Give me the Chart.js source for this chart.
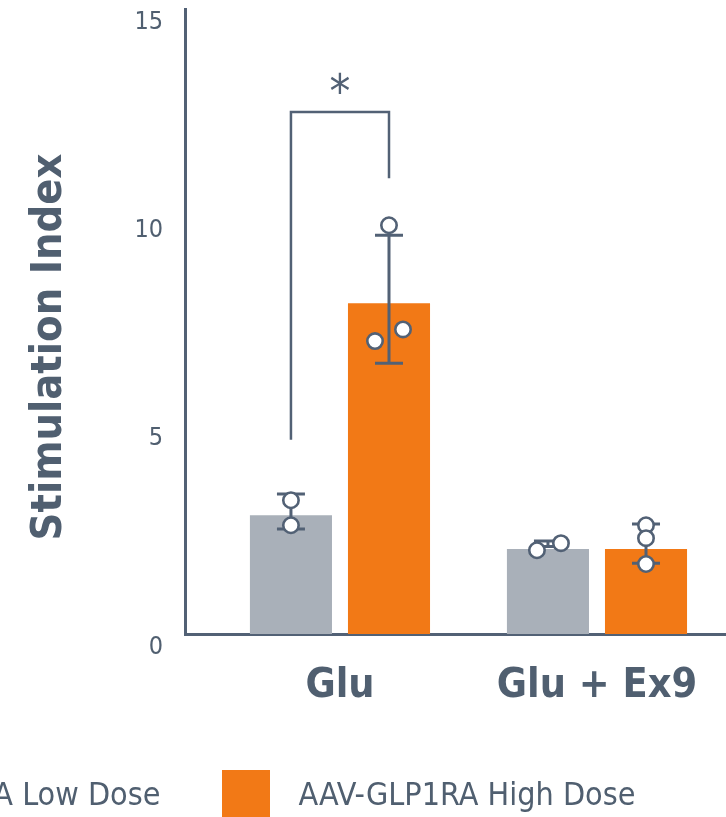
<!DOCTYPE html>
<html>
<head>
<meta charset="utf-8">
<script src="https://cdn.jsdelivr.net/npm/chart.js@4.4.1/dist/chart.umd.min.js"></script>
<style>
  html, body { margin: 0; padding: 0; background: #fff; overflow: hidden; }
  #wrap { position: relative; width: 726px; height: 817px; }
  #legenda {
    position: absolute; top: 770px; left: -243px;
    display: flex; align-items: center; white-space: nowrap;
    font-family: 'DejaVu Sans Condensed', 'DejaVu Sans', sans-serif;
    font-size: 32px; color: #505f70;
  }
  .item { display: flex; align-items: center; margin-right: 62px; }
  .caixa { width: 48px; height: 48px; margin-right: 28px; }
</style>
</head>
<body>
<div id="wrap">
  <canvas id="grafico"></canvas>
  <div id="legenda"></div>
</div>
<script>
// Dados
const categorias = ['Glu', 'Glu + Ex9'];
const series = ['AAV-GLP1RA Low Dose', 'AAV-GLP1RA High Dose'];
const doseBaixa = [2.85, 2.04];
const doseAlta = [7.94, 2.04];
const erroBaixa = [[2.52, 3.36], [2.10, 2.23]];
const erroAlta = [[6.50, 9.57], [1.70, 2.64]];
const pontosBaixa = [[3.21, 2.61], [2.01, 2.18]];
const pontosAlta = [[9.81, 7.03, 7.31], [2.61, 2.30, 1.68]];
const ticksY = [0, 5, 10, 15];
const tituloY = 'Stimulation Index';
const textoSignif = '*';
const signifTopo = 12.53;
const signifPeBaixa = 4.66;
const signifPeAlta = 10.94;
const signifMarca = 13.22;

// Estilo
const cores = ['#a9b0b9', '#f27916'];
const corTexto = '#505f70';
const corLinha = '#526175';
const fonte = "'DejaVu Sans Condensed', 'DejaVu Sans', sans-serif";
// deslocamento horizontal (px) dos pontos individuais
const jitter = [[[0, 0], [-11, 13]], [[0, -14, 14], [0, 0, 0]]];

const pluginExtras = {
  id: 'extras',
  afterDatasetsDraw(chart) {
    const { ctx } = chart;
    const y = chart.scales.y;
    const erros = [erroBaixa, erroAlta];
    const pontos = [pontosBaixa, pontosAlta];
    ctx.save();
    ctx.strokeStyle = corLinha;
    ctx.lineWidth = 3;
    chart.data.datasets.forEach((ds, i) => {
      chart.getDatasetMeta(i).data.forEach((barra, j) => {
        const yLo = y.getPixelForValue(erros[i][j][0]);
        const yHi = y.getPixelForValue(erros[i][j][1]);
        ctx.beginPath();
        ctx.moveTo(barra.x, yLo); ctx.lineTo(barra.x, yHi);
        ctx.moveTo(barra.x - 14, yLo); ctx.lineTo(barra.x + 14, yLo);
        ctx.moveTo(barra.x - 14, yHi); ctx.lineTo(barra.x + 14, yHi);
        ctx.stroke();
      });
    });
    ctx.lineWidth = 2.6;
    ctx.fillStyle = '#ffffff';
    chart.data.datasets.forEach((ds, i) => {
      chart.getDatasetMeta(i).data.forEach((barra, j) => {
        pontos[i][j].forEach((v, k) => {
          ctx.beginPath();
          ctx.arc(barra.x + jitter[i][j][k], y.getPixelForValue(v), 7.7, 0, Math.PI * 2);
          ctx.fill();
          ctx.stroke();
        });
      });
    });
    ctx.restore();
  },
  afterDraw(chart) {
    const { ctx } = chart;
    const y = chart.scales.y;
    const xa = chart.getDatasetMeta(0).data[0].x;
    const xb = chart.getDatasetMeta(1).data[0].x;
    ctx.save();
    // colchete de significância
    ctx.strokeStyle = corLinha;
    ctx.lineWidth = 2.5;
    ctx.beginPath();
    ctx.moveTo(xa, y.getPixelForValue(signifPeBaixa));
    ctx.lineTo(xa, y.getPixelForValue(signifTopo));
    ctx.lineTo(xb, y.getPixelForValue(signifTopo));
    ctx.lineTo(xb, y.getPixelForValue(signifPeAlta));
    ctx.stroke();

    // asterisco
    ctx.fillStyle = corLinha;
    ctx.font = '40px ' + fonte;
    let m = ctx.measureText(textoSignif);
    const tam = 40 * 22 / (m.actualBoundingBoxAscent + m.actualBoundingBoxDescent);
    ctx.font = tam + 'px ' + fonte;
    m = ctx.measureText(textoSignif);
    ctx.textAlign = 'center';
    ctx.textBaseline = 'alphabetic';
    const cy = y.getPixelForValue(signifMarca);
    ctx.fillText(textoSignif, (xa + xb) / 2, cy + (m.actualBoundingBoxAscent - m.actualBoundingBoxDescent) / 2);

    // título do eixo Y
    ctx.fillStyle = corTexto;
    ctx.font = 'bold 43px ' + fonte;
    m = ctx.measureText(tituloY);
    ctx.translate(44.5, 347);
    ctx.rotate(-Math.PI / 2);
    ctx.fillText(tituloY, 0, (m.actualBoundingBoxAscent - m.actualBoundingBoxDescent) / 2);
    ctx.restore();
  }
};

const ctx = document.getElementById('grafico');
const grafico = new Chart(ctx, {
  type: 'bar',
  data: {
    datasets: [
      { label: series[0], data: doseBaixa.map((v, i) => ({ x: i, y: v })), backgroundColor: cores[0] },
      { label: series[1], data: doseAlta.map((v, i) => ({ x: i, y: v })), backgroundColor: cores[1] }
    ]
  },
  options: {
    responsive: true,
    maintainAspectRatio: false,
    animation: false,
    categoryPercentage: 0.763,
    barPercentage: 0.837,
    layout: { padding: { top: 9, left: 0, right: 0, bottom: 0 } },
    plugins: { legend: { display: false }, tooltip: { enabled: false } },
    scales: {
      x: {
        type: 'linear',
        offset: false,
        min: -0.603,
        max: 1.502,
        grid: { display: false, drawTicks: false },
        border: { display: true, color: corLinha, width: 3 },
        afterBuildTicks: (s) => { s.ticks = categorias.map((c, i) => ({ value: i })); },
        afterFit: (s) => { s.height = 183; s.paddingLeft = 0; s.paddingRight = 0; },
        ticks: {
          padding: 28,
          color: corTexto,
          font: { family: fonte, size: 41, weight: 'bold' },
          callback: (v) => categorias[v]
        }
      },
      y: {
        min: 0,
        max: 15,
        grid: { display: false, drawTicks: false },
        border: { display: true, color: corLinha, width: 3 },
        afterBuildTicks: (s) => { s.ticks = ticksY.map(v => ({ value: v })); },
        afterFit: (s) => { s.width = 185; s.paddingTop = 0; s.paddingBottom = 0; },
        ticks: {
          padding: 22,
          labelOffset: 13,
          color: corTexto,
          font: { family: fonte, size: 25 }
        }
      }
    }
  },
  plugins: [pluginExtras]
});

// Legenda em HTML
const legenda = document.getElementById('legenda');
legenda.innerHTML = series.map((s, i) =>
  `<div class="item"><div class="caixa" style="background:${cores[i]}"></div><span>${s}</span></div>`
).join('');
</script>
</body>
</html>
